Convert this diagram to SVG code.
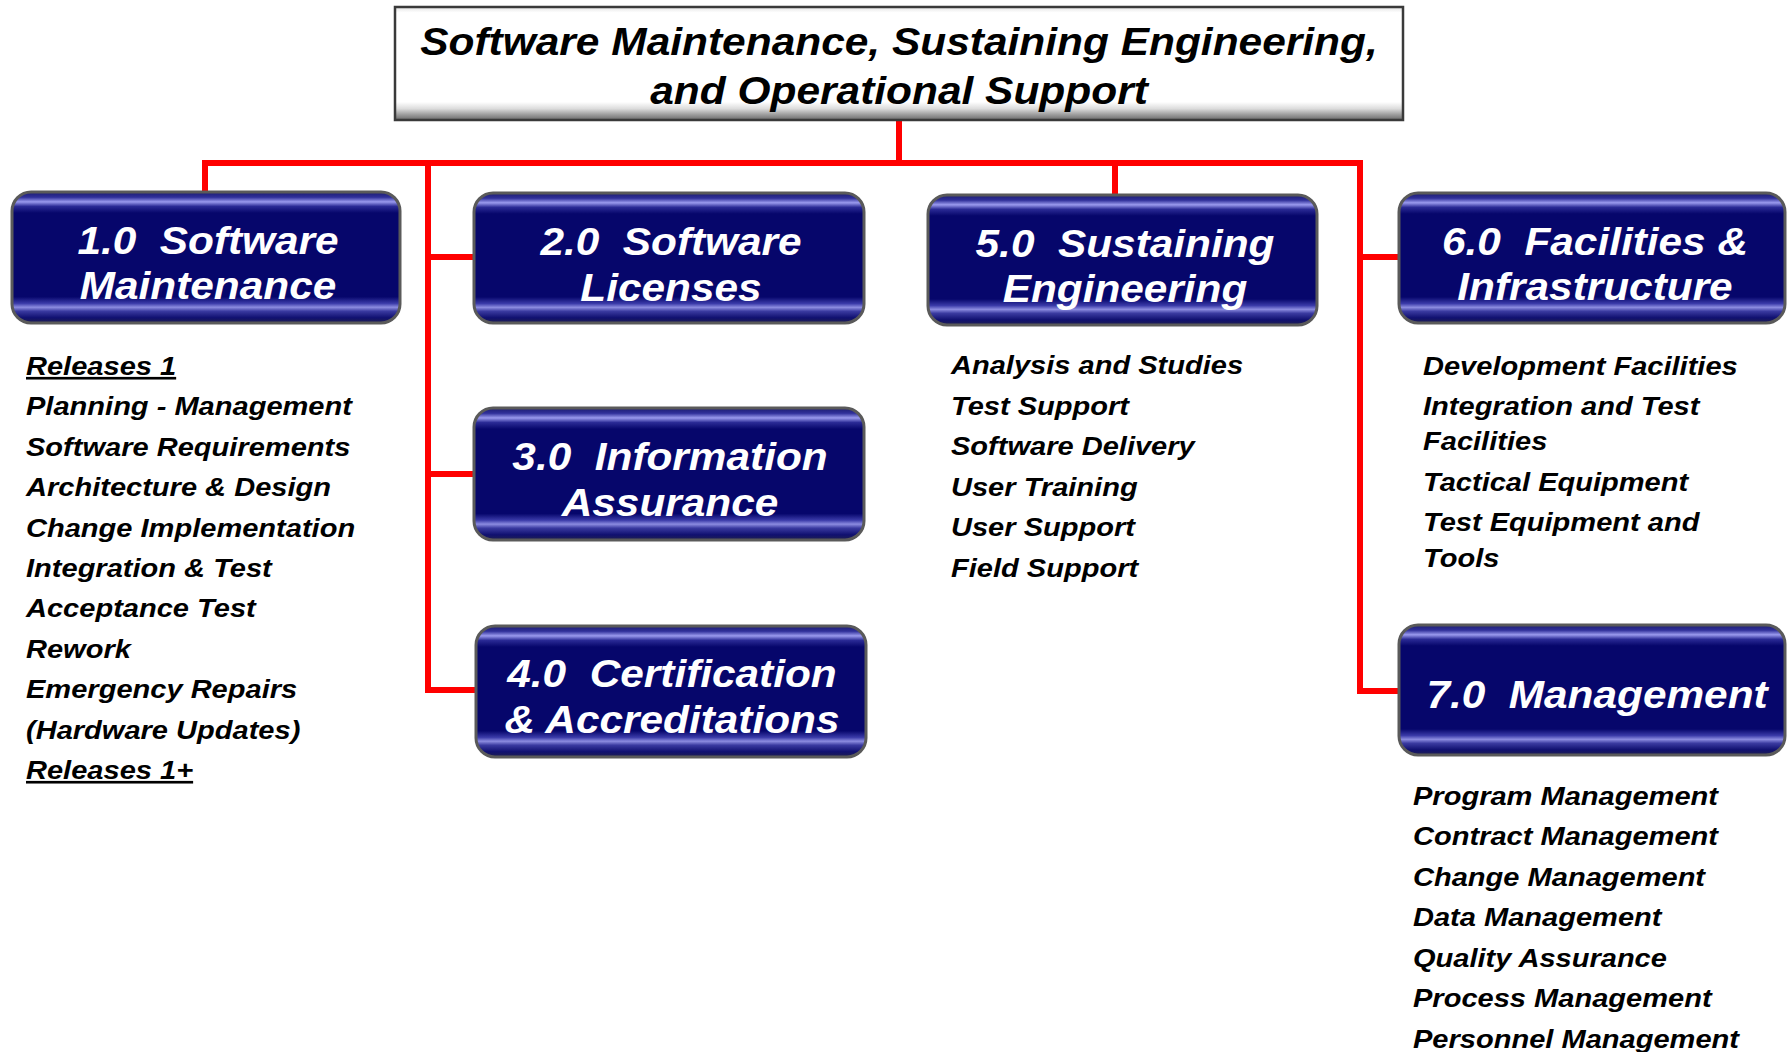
<svg xmlns="http://www.w3.org/2000/svg" width="1787" height="1052" viewBox="0 0 1787 1052">
  <defs>
    <linearGradient id="navy" x1="0" y1="0" x2="0" y2="1">
      <stop offset="0" stop-color="#1c1c70"/>
      <stop offset="0.04" stop-color="#30309a"/>
      <stop offset="0.075" stop-color="#9a9aee"/>
      <stop offset="0.11" stop-color="#2a2a95"/>
      <stop offset="0.16" stop-color="#06066b"/>
      <stop offset="0.80" stop-color="#06066b"/>
      <stop offset="0.85" stop-color="#3a3aa8"/>
      <stop offset="0.88" stop-color="#8c8ce0"/>
      <stop offset="0.91" stop-color="#3a3aa0"/>
      <stop offset="0.96" stop-color="#101070"/>
      <stop offset="1" stop-color="#202050"/>
    </linearGradient>
    <linearGradient id="titlefill" x1="0" y1="0" x2="0" y2="1">
      <stop offset="0" stop-color="#e4e4e4"/>
      <stop offset="0.05" stop-color="#ffffff"/>
      <stop offset="0.84" stop-color="#ffffff"/>
      <stop offset="0.9" stop-color="#dcdcdc"/>
      <stop offset="0.95" stop-color="#a0a0a0"/>
      <stop offset="1" stop-color="#6a6a6a"/>
    </linearGradient>
  </defs>
  <style>
    .box { fill: url(#navy); stroke: #5a5a5a; stroke-width: 3; }
    .title { fill: url(#titlefill); stroke: #3a3a3a; stroke-width: 2.5; }
    .bt { font-family: "Liberation Sans", Arial, sans-serif; font-weight: bold; font-style: italic; font-size: 38.5px; fill: #ffffff; text-anchor: middle; }
    .tt { font-family: "Liberation Sans", Arial, sans-serif; font-weight: bold; font-style: italic; font-size: 38.6px; fill: #000000; text-anchor: middle; }
    .lt { font-family: "Liberation Sans", Arial, sans-serif; font-weight: bold; font-style: italic; font-size: 26.4px; fill: #000000; }
    .ul { text-decoration: underline; }
    .conn { fill: none; stroke: #ff0000; stroke-width: 6; stroke-linejoin: miter; stroke-linecap: square; }
  </style>
  <rect width="1787" height="1052" fill="#ffffff"/>

  <g id="connectors">
    <path class="conn" d="M899,121 V163"/>
    <path class="conn" d="M205,192 V163 H1360 V691 H1398"/>
    <path class="conn" d="M428,163 V690 H475"/>
    <path class="conn" d="M428,257 H473"/>
    <path class="conn" d="M428,474 H473"/>
    <path class="conn" d="M1115,163 V194"/>
    <path class="conn" d="M1360,257 H1398"/>
  </g>

  <g id="title">
    <rect class="title" x="395" y="7" width="1008" height="113"/>
    <g transform="translate(899,0) scale(1.1,1)">
      <text class="tt" x="0" y="55">Software Maintenance, Sustaining Engineering,</text>
      <text class="tt" x="0" y="104">and Operational Support</text>
    </g>
  </g>

  <g id="node1">
    <rect class="box" x="12" y="192" width="388" height="131" rx="19"/>
    <g transform="translate(208,0) scale(1.1,1)">
      <text class="bt" x="0" y="254">1.0&#160; Software</text>
      <text class="bt" x="0" y="299">Maintenance</text>
    </g>
  </g>

  <g id="node2">
    <rect class="box" x="474" y="193" width="390" height="130" rx="19"/>
    <g transform="translate(671,0) scale(1.1,1)">
      <text class="bt" x="0" y="255">2.0&#160; Software</text>
      <text class="bt" x="0" y="301">Licenses</text>
    </g>
  </g>

  <g id="node3">
    <rect class="box" x="474" y="408" width="390" height="132" rx="19"/>
    <g transform="translate(670,0) scale(1.1,1)">
      <text class="bt" x="0" y="470">3.0&#160; Information</text>
      <text class="bt" x="0" y="516">Assurance</text>
    </g>
  </g>

  <g id="node4">
    <rect class="box" x="476" y="626" width="390" height="131" rx="19"/>
    <g transform="translate(672,0) scale(1.1,1)">
      <text class="bt" x="0" y="687">4.0&#160; Certification</text>
      <text class="bt" x="0" y="733">&amp; Accreditations</text>
    </g>
  </g>

  <g id="node5">
    <rect class="box" x="928" y="195" width="389" height="130" rx="19"/>
    <g transform="translate(1125,0) scale(1.1,1)">
      <text class="bt" x="0" y="257">5.0&#160; Sustaining</text>
      <text class="bt" x="0" y="302">Engineering</text>
    </g>
  </g>

  <g id="node6">
    <rect class="box" x="1399" y="193" width="386" height="130" rx="19"/>
    <g transform="translate(1595,0) scale(1.1,1)">
      <text class="bt" x="0" y="255">6.0&#160; Facilities &amp;</text>
      <text class="bt" x="0" y="300">Infrastructure</text>
    </g>
  </g>

  <g id="node7">
    <rect class="box" x="1399" y="625" width="386" height="130" rx="19"/>
    <g transform="translate(1597,0) scale(1.1,1)">
      <text class="bt" x="0" y="708">7.0&#160; Management</text>
    </g>
  </g>

  <g id="list1" transform="translate(26,0) scale(1.1,1)">
    <text class="lt ul" x="0" y="375">Releases 1</text>
    <text class="lt" x="0" y="415.4">Planning - Management</text>
    <text class="lt" x="0" y="455.8">Software Requirements</text>
    <text class="lt" x="0" y="496.2">Architecture &amp; Design</text>
    <text class="lt" x="0" y="536.6">Change Implementation</text>
    <text class="lt" x="0" y="577">Integration &amp; Test</text>
    <text class="lt" x="0" y="617.4">Acceptance Test</text>
    <text class="lt" x="0" y="657.8">Rework</text>
    <text class="lt" x="0" y="698.2">Emergency Repairs</text>
    <text class="lt" x="0" y="738.6">(Hardware Updates)</text>
    <text class="lt ul" x="0" y="779">Releases 1+</text>
  </g>

  <g id="list5" transform="translate(951,0) scale(1.1,1)">
    <text class="lt" x="0" y="374">Analysis and Studies</text>
    <text class="lt" x="0" y="414.6">Test Support</text>
    <text class="lt" x="0" y="455.2">Software Delivery</text>
    <text class="lt" x="0" y="495.8">User Training</text>
    <text class="lt" x="0" y="536.4">User Support</text>
    <text class="lt" x="0" y="577">Field Support</text>
  </g>

  <g id="list6" transform="translate(1423,0) scale(1.1,1)">
    <text class="lt" x="0" y="375">Development Facilities</text>
    <text class="lt" x="0" y="415">Integration and Test</text>
    <text class="lt" x="0" y="450.5">Facilities</text>
    <text class="lt" x="0" y="491.5">Tactical Equipment</text>
    <text class="lt" x="0" y="531.5">Test Equipment and</text>
    <text class="lt" x="0" y="567">Tools</text>
  </g>

  <g id="list7" transform="translate(1413,0) scale(1.1,1)">
    <text class="lt" x="0" y="805">Program Management</text>
    <text class="lt" x="0" y="845.5">Contract Management</text>
    <text class="lt" x="0" y="886">Change Management</text>
    <text class="lt" x="0" y="926.5">Data Management</text>
    <text class="lt" x="0" y="967">Quality Assurance</text>
    <text class="lt" x="0" y="1007.5">Process Management</text>
    <text class="lt" x="0" y="1048">Personnel Management</text>
  </g>
</svg>
